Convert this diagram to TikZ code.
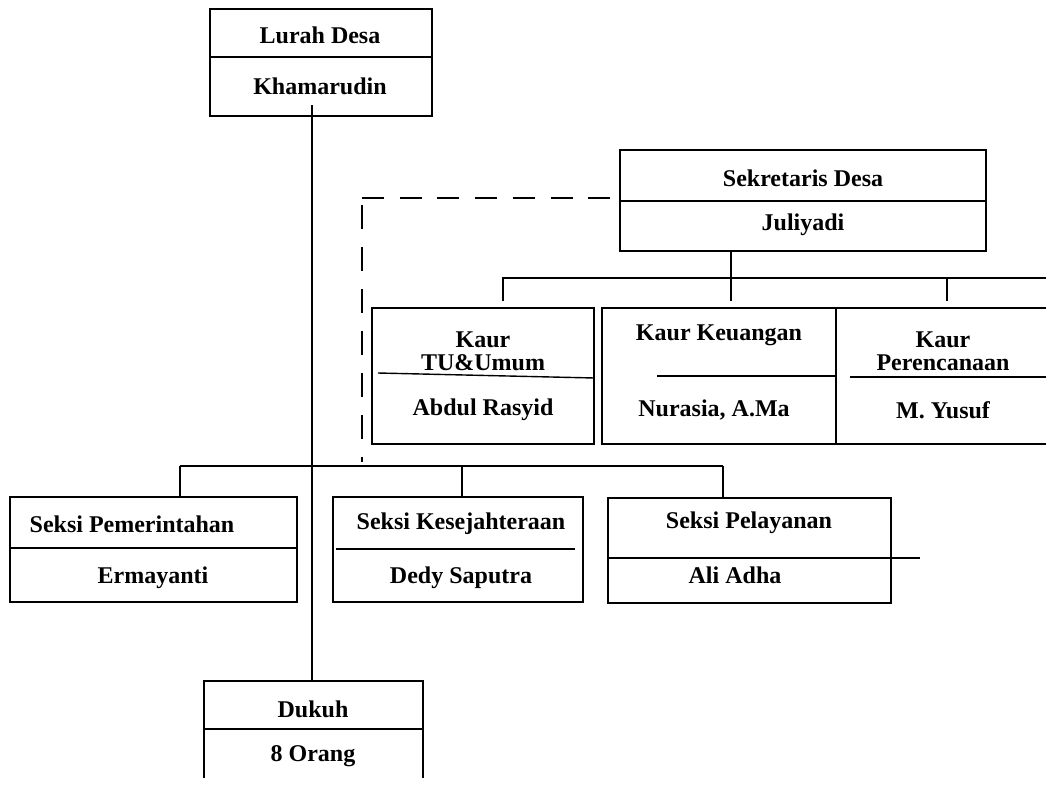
\documentclass[tikz,border=0pt]{standalone}
\usepackage{fontspec}
\setmainfont{Liberation Serif}
\usepackage{tikz}
\usetikzlibrary{positioning}

\begin{document}
\begin{tikzpicture}[x=1pt,y=-1pt,line width=1.4pt,
	kotak/.style={draw,inner sep=0pt},
	teks/.style={font=\fontsize{24}{23}\selectfont\bfseries,align=center,inner sep=0pt},
	garis/.style={line width=1.4pt},
	putus/.style={line width=1.4pt,dash pattern=on 22pt off 15.7pt}]

	\useasboundingbox (0,0) rectangle (1046,785);
	\clip (0,0) rectangle (1046,777);

	% kotak
	\node[kotak,minimum width=222pt,minimum height=107pt] (lurah) at (321,62.5) {};
	\node[kotak,minimum width=366pt,minimum height=101pt] (sekdes) at (803,200.5) {};
	\node[kotak,minimum width=222pt,minimum height=136pt] (kaurtu) at (483,376) {};
	\node[kotak,minimum width=234pt,minimum height=136pt] (kaurkeu) at (719,376) {};
	\node[kotak,minimum width=234pt,minimum height=136pt] (kaurren) at (953,376) {};
	\node[kotak,minimum width=287pt,minimum height=105pt] (pemerintahan) at (153.5,549.5) {};
	\node[kotak,minimum width=250pt,minimum height=105pt] (kesejahteraan) at (458,549.5) {};
	\node[kotak,minimum width=283pt,minimum height=105pt] (pelayanan) at (749.5,550.5) {};
	\node[kotak,minimum width=219pt,minimum height=130pt] (dukuh) at (313.5,746) {};

	% sekat
	\draw[garis] (lurah.west |- 0,57) -- (lurah.east |- 0,57);
	\draw[garis] (sekdes.west |- 0,201) -- (sekdes.east |- 0,201);
	\draw[garis] (378,373) -- (kaurtu.east |- 0,378);
	\draw[garis] (657,376) -- (kaurkeu.east |- 0,376);
	\draw[garis] (850,377) -- (1060,377);
	\draw[garis] (pemerintahan.west |- 0,548) -- (pemerintahan.east |- 0,548);
	\draw[garis] (336,549) -- (575,549);
	\draw[garis] (pelayanan.west |- 0,558) -- (920,558);
	\draw[garis] (dukuh.west |- 0,729) -- (dukuh.east |- 0,729);

	% teks
	\node[teks] (t1) at (320,35) {Lurah Desa};
	\node[teks] (n1) at (320,86) {Khamarudin};
	\node[teks] (t2) at (803,178) {Sekretaris Desa};
	\node[teks] (n2) at (803,225) {Juliyadi};
	\node[teks] (t3) at (483,351) {Kaur\\TU\&Umum};
	\node[teks] (n3) at (483,410) {Abdul Rasyid};
	\node[teks] (t4) at (719,335) {Kaur Keuangan};
	\node[teks] (n4) at (714,410) {Nurasia, A.Ma};
	\node[teks] (t5) at (943,351) {Kaur\\Perencanaan};
	\node[teks] (n5) at (943,410) {M. Yusuf};
	\node[teks] (t6) at (132,524) {Seksi Pemerintahan};
	\node[teks] (n6) at (153,578) {Ermayanti};
	\node[teks] (t7) at (461,524) {Seksi Kesejahteraan};
	\node[teks] (n7) at (461,578) {Dedy Saputra};
	\node[teks] (t8) at (749,523) {Seksi Pelayanan};
	\node[teks] (n8) at (735,575) {Ali Adha};
	\node[teks] (t9) at (313,709) {Dukuh};
	\node[teks] (n9) at (313,756) {8 Orang};

	% garis hubung
	\coordinate (pusat) at (312,105);
	\coordinate (cabang1) at (731,278);
	\coordinate (ujung1) at (502,278);
	\coordinate (ujung2) at (1060,278);
	\coordinate (ujung3) at (180,466);
	\coordinate (ujung4) at (723,466);
	\coordinate (sudut) at (362,198);
	\coordinate (turun) at (362,205);
	\coordinate (akhir) at (362,462);

	\draw[garis] (pusat) -- (pusat |- dukuh.north);
	\draw[garis] (sekdes.south -| cabang1) -- (cabang1);
	\draw[garis] (ujung1) -- (ujung2);
	\draw[garis,shorten >=6pt] (503,278) -- (503,278 |- kaurtu.north);
	\draw[garis,shorten >=6pt] (cabang1) -- (cabang1 |- kaurkeu.north);
	\draw[garis,shorten >=6pt] (947,278) -- (947,278 |- kaurren.north);
	\draw[garis] (ujung3) -- (ujung4);
	\draw[garis] (ujung3) -- (ujung3 |- pemerintahan.north);
	\draw[garis] (462,466) -- (462,466 |- kesejahteraan.north);
	\draw[garis] (ujung4) -- (ujung4 |- pelayanan.north);
	\draw[putus] (sudut) -- (sekdes.west |- sudut);
	\draw[putus,dash pattern=on 24pt off 18pt] (turun) -- (akhir);
\end{tikzpicture}
\end{document}
